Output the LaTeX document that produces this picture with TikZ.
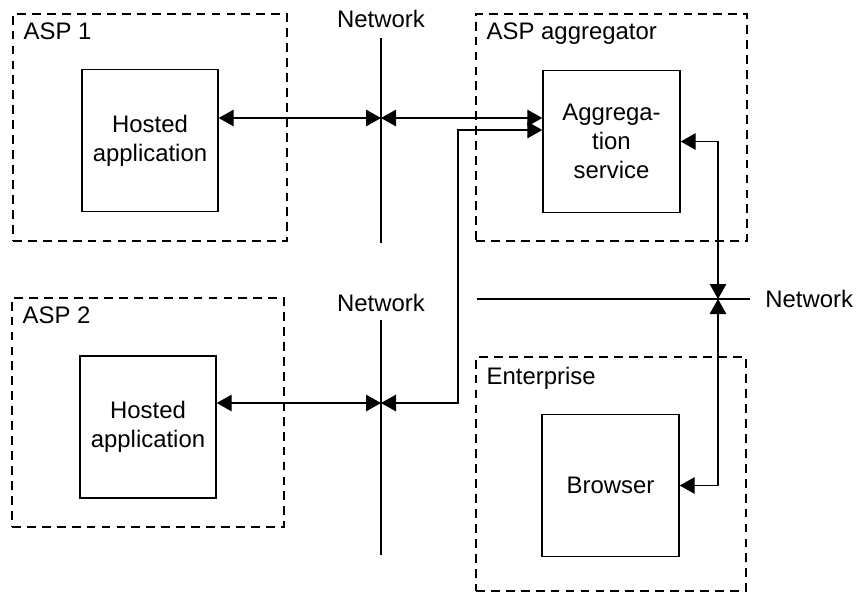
\documentclass[tikz,border=0pt]{standalone}
\usepackage{fontspec}
\setmainfont{Liberation Sans}
\usetikzlibrary{arrows.meta,positioning}

\tikzset{
    zone/.style={draw, dash pattern=on 5pt off 3.5pt, line width=0.7pt},
    block/.style={draw, line width=0.8pt, minimum width=2.72cm, minimum height=2.84cm, align=center},
    link/.style={{Triangle[length=3mm,width=3.3mm]}-{Triangle[length=3mm,width=3.3mm]}, line width=0.8pt},
    net/.style={line width=0.8pt},
}

\begin{document}
\begin{tikzpicture}[font=\fontsize{13.6}{16.5}\selectfont]
    \useasboundingbox (0,0) rectangle (17.18,-11.88);

    % dashed domains
    \node[zone, minimum width=5.48cm, minimum height=4.54cm] (asp1) at (3.0,-2.55) {};
    \node[zone, minimum width=5.44cm, minimum height=4.58cm] (asp2) at (2.96,-8.25) {};
    \node[zone, minimum width=5.42cm, minimum height=4.54cm] (aggr) at (12.23,-2.55) {};
    \node[zone, minimum width=5.40cm, minimum height=4.68cm] (ent) at (12.22,-9.48) {};

    \node[below right=0.18cm and 0.22cm of asp1.north west, inner sep=0pt] (asp1label) {ASP 1};
    \node[below right=0.18cm and 0.22cm of asp2.north west, inner sep=0pt] (asp2label) {ASP 2};
    \node[below right=0.18cm and 0.22cm of aggr.north west, inner sep=0pt] (aggrlabel) {ASP aggregator};
    \node[below right=0.2cm and 0.22cm of ent.north west, inner sep=0pt] (entlabel) {Enterprise};

    % boxes
    \node[block] (hosted1) at (3.0,-2.81) {Hosted\\application};
    \node[block] (hosted2) at (2.96,-8.54) {Hosted\\application};
    \node[block, minimum width=2.74cm] (aggsvc) at (12.23,-2.83) {Aggrega-\\tion\\service};
    \node[block, minimum width=2.74cm] (browser) at (12.21,-9.71) {Browser};

    % networks
    \coordinate (net1top) at (7.62,-0.76);
    \coordinate (net1bot) at (7.62,-4.86);
    \coordinate (net2top) at (7.62,-6.4);
    \coordinate (net2bot) at (7.62,-11.1);
    \coordinate (net3west) at (9.54,-5.98);
    \coordinate (net3east) at (15.0,-5.98);
    \draw[net] (net1top) -- (net1bot);
    \draw[net] (net2top) -- (net2bot);
    \draw[net] (net3west) -- (net3east);
    \node[above=0.2cm of net1top, inner sep=0pt] (net1label) {Network};
    \node[above=0.16cm of net2top, inner sep=0pt] (net2label) {Network};
    \node[right=0.3cm of net3east, inner sep=0pt] (net3label) {Network};

    % links
    \coordinate (hub1) at (7.62,-2.36);
    \coordinate (hub2) at (7.62,-8.06);
    \coordinate (hub3) at (14.36,-5.98);
    \coordinate (bend) at (9.16,-2.6);
    \draw[link] (hosted1.east |- hub1) -- (hub1);
    \draw[link] (hub1) -- (aggsvc.west |- hub1);
    \draw[link] (hosted2.east |- hub2) -- (hub2);
    \draw[link] (hub2) -| (bend) -- (aggsvc.west |- bend);
    \draw[link] (aggsvc.east) -| (hub3);
    \draw[link] (hub3) |- (browser.east);
\end{tikzpicture}
\end{document}
